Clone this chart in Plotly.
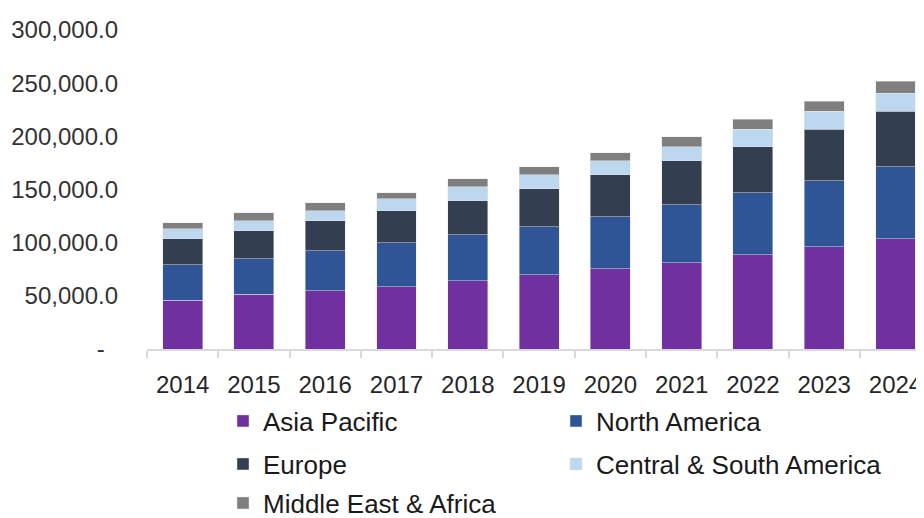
import plotly.graph_objects as go

years = ["2014", "2015", "2016", "2017", "2018", "2019", "2020", "2021", "2022", "2023", "2024"]

asia_pacific = [45700, 51300, 55000, 58400, 64400, 70000, 75600, 81300, 88800, 96300, 103800]
north_america = [33700, 33400, 37500, 41600, 43100, 45000, 48800, 54400, 58100, 61900, 67500]
europe = [24400, 26600, 28100, 30000, 31900, 35600, 39400, 41200, 43100, 48700, 52500]
central_south_america = [9400, 9400, 9400, 11200, 13100, 13100, 13100, 13100, 16900, 16900, 16900]
middle_east_africa = [5600, 7500, 7500, 5600, 7500, 7500, 7500, 9400, 9400, 9400, 11200]

series = [
    ("Asia Pacific", asia_pacific, "#7030A0", "legend"),
    ("North America", north_america, "#2F5597", "legend"),
    ("Europe", europe, "#333F50", "legend2"),
    ("Central & South America", central_south_america, "#BDD7EE", "legend2"),
    ("Middle East & Africa", middle_east_africa, "#7F7F7F", "legend3"),
]

y_tickvals = [0, 50000, 100000, 150000, 200000, 250000, 300000]
y_ticktext = ["-\u00a0\u00a0", "50,000.0", "100,000.0", "150,000.0", "200,000.0", "250,000.0", "300,000.0"]

FONT = "Liberation Sans, Arial, sans-serif"
# the page body has an 8px margin, so the figure is sized to the rest of the window
OFF = 8
W, H = 924 - OFF, 518 - OFF

fig = go.Figure()
for name, vals, color, lg in series:
    fig.add_trace(go.Bar(
        x=years, y=vals, name=name, legend=lg,
        marker=dict(color=color, line=dict(color="rgba(230,230,230,0.8)", width=0.6)),
    ))

def leg(y_px):
    return dict(
        orientation="h", xref="container", yref="container",
        x=(223 - OFF) / W, xanchor="left", y=1 - (y_px - OFF) / H, yanchor="middle",
        entrywidth=288, entrywidthmode="pixels",
        font=dict(family=FONT, size=26, color="#1a1a1a"),
        bgcolor="rgba(0,0,0,0)", borderwidth=0, traceorder="normal",
    )

fig.update_layout(
    width=W, height=H,
    barmode="stack", bargap=0.44,
    plot_bgcolor="white", paper_bgcolor="white",
    margin=dict(l=147 - OFF, r=0, t=30 - OFF, b=H - (349 - OFF)),
    showlegend=True,
    legend=leg(421),
    legend2=leg(464),
    legend3=leg(503),
    xaxis=dict(
        type="category", range=[-0.5, 10.4],
        showline=True, linecolor="#D9D9D9", linewidth=1.5,
        ticks="outside", tickson="boundaries", ticklen=7, tickcolor="#D9D9D9", tickwidth=1.5,
        showgrid=False, zeroline=False, automargin=False,
        tickfont=dict(family=FONT, size=24, color="#262626"),
        ticklabelstandoff=13,
    ),
    yaxis=dict(
        range=[0, 300000], tickvals=y_tickvals, ticktext=y_ticktext,
        showgrid=False, zeroline=False, showline=False, ticks="", automargin=False,
        tickfont=dict(family=FONT, size=24, color="#333333"),
        ticklabelstandoff=28,
    ),
)

fig.write_html("out.html")
